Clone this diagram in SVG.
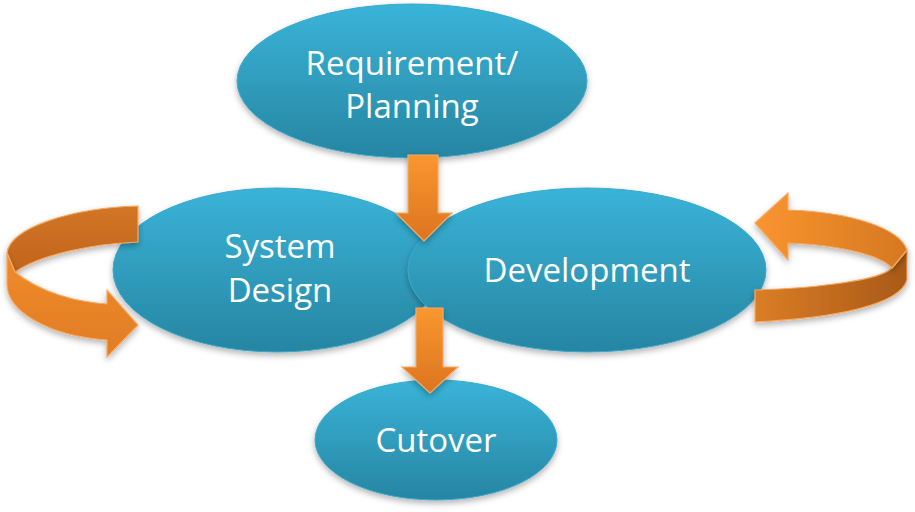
<svg xmlns="http://www.w3.org/2000/svg" width="915" height="512" viewBox="0 0 915 512">
<defs>
<linearGradient id="blue" x1="0" y1="0" x2="0" y2="1">
<stop offset="0" stop-color="#39b4d8"/>
<stop offset="1" stop-color="#2785a2"/>
</linearGradient>
<linearGradient id="down" x1="0" y1="0" x2="0" y2="1">
<stop offset="0" stop-color="#f9972f"/>
<stop offset="1" stop-color="#dc7420"/>
</linearGradient>
<linearGradient id="backL" x1="0" y1="0" x2="0" y2="1">
<stop offset="0" stop-color="#d27525"/>
<stop offset="1" stop-color="#c0651c"/>
</linearGradient>
<linearGradient id="frontL" x1="0" y1="0" x2="0" y2="1">
<stop offset="0" stop-color="#f08b2b"/>
<stop offset="1" stop-color="#e07c24"/>
</linearGradient>
<linearGradient id="frontR" x1="0" y1="0" x2="1" y2="0">
<stop offset="0" stop-color="#f9952f"/>
<stop offset="1" stop-color="#d67822"/>
</linearGradient>
<linearGradient id="backR" x1="0" y1="0" x2="1" y2="0">
<stop offset="0" stop-color="#db7d26"/>
<stop offset="1" stop-color="#a85a18"/>
</linearGradient>
<filter id="sh" x="-10%" y="-10%" width="120%" height="130%">
<feDropShadow dx="0" dy="3" stdDeviation="3" flood-color="#000" flood-opacity="0.3"/>
</filter>
</defs>
<style>
.node ellipse{fill:url(#blue);stroke:#3aa9c9;stroke-width:1;filter:url(#sh)}
.node text{font-family:"Open Sans","Liberation Sans",Arial,sans-serif;font-size:33px;fill:#fff;text-anchor:middle}
.arr{stroke:#f6a860;stroke-width:1.2;stroke-linejoin:miter;filter:url(#sh)}
</style>
<g id="req" class="node">
<ellipse cx="412" cy="81" rx="175" ry="77"/>
<text x="412" y="75">Requirement/</text>
<text x="412" y="118">Planning</text>
</g>
<g id="sysdesign" class="node">
<ellipse cx="277" cy="270" rx="164" ry="82"/>
<text x="280" y="258">System</text>
<text x="280" y="302">Design</text>
</g>
<g id="dev" class="node">
<ellipse cx="587" cy="270" rx="179" ry="82"/>
<text x="587" y="282">Development</text>
</g>
<g id="cutover" class="node">
<ellipse cx="436" cy="440" rx="121" ry="60"/>
<text x="436" y="452">Cutover</text>
</g>
<g id="connectors">
<path class="arr" fill="url(#down)" d="M408 155 L438 155 L438 213 L452 213 L424 241 L396 213 L408 213 Z"/>
<path class="arr" fill="url(#down)" d="M416 308 L443 308 L443 367 L458 367 L430 393 L402 367 L416 367 Z"/>
<g id="loopL">
<path class="arr" fill="url(#backL)" d="M138 206 C70 208 10 228 7 253 L15 272 C40 255 90 244 138 242 Z"/>
<path class="arr" fill="url(#frontL)" d="M15 272 C40 292 75 302 107 304 L107 290 L138 325 L107 357 L107 340 C50 336 7 312 7 284 L7 253 Z"/>
</g>
<g id="loopR">
<path class="arr" fill="url(#backR)" d="M907 250 L907 280 C900 305 835 318 755 322 L755 290 C820 288 880 280 892 268 Z"/>
<path class="arr" fill="url(#frontR)" d="M755 223 L788 193 L788 210 C850 212 900 228 907 250 L892 268 C880 255 840 245 788 243 L788 260 Z"/>
</g>
</g>
</svg>
